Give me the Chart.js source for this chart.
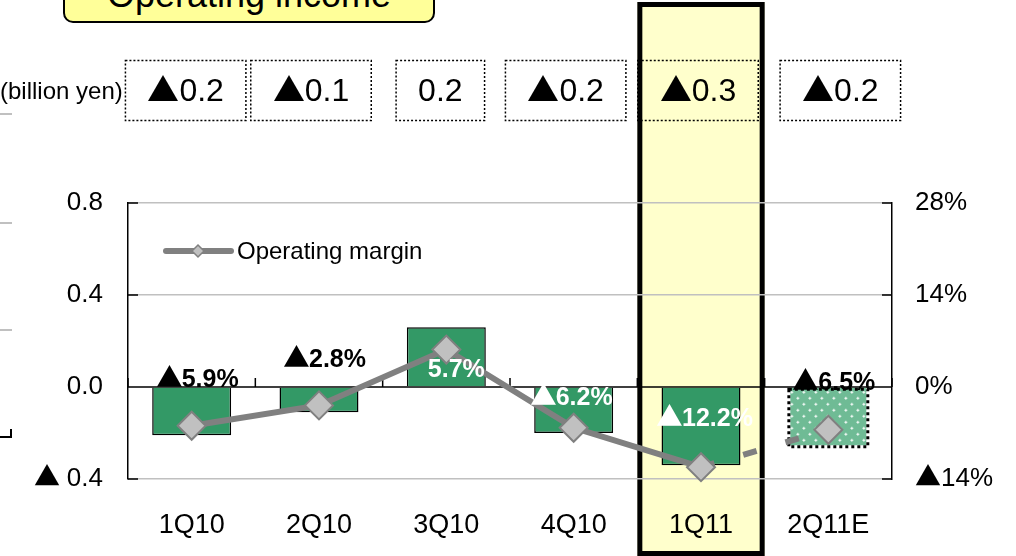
<!DOCTYPE html>
<html>
<head>
<meta charset="utf-8">
<script src="https://cdn.jsdelivr.net/npm/chart.js@4.4.0/dist/chart.umd.min.js"></script>
<style>
  @font-face {
    font-family: 'Tri';
    src: local('Noto Sans CJK JP Regular'), local('NotoSansCJKjp-Regular'), local('Noto Sans CJK JP'),
         local('DejaVu Sans'), local('DejaVuSans');
    unicode-range: U+25B2;
  }
  body { margin: 0; background: #fff; font-family: 'Liberation Sans', Arial, sans-serif; }
  #wrap { position: relative; width: 1016px; height: 556px; overflow: hidden; }
  #chart { position: absolute; left: 0; top: 0; }
  .title {
    position: absolute; left: 63px; top: -30px; width: 368px; height: 44px;
    padding-top: 5px; background: #FFFF99; border: 2px solid #000; border-radius: 10px;
    font-size: 36px; line-height: 36px; text-align: center; z-index: 2;
  }
  .edge { position: absolute; left: 0; width: 12px; height: 2px; background: #c0c0c0; }
  .corner { position: absolute; left: 0; top: 429px; width: 10px; height: 7px;
    border-right: 2px solid #000; border-bottom: 2px solid #000; }
</style>
</head>
<body>
<div id="wrap">
  <canvas id="chart" width="1016" height="556"></canvas>
  <div class="title">Operating income</div>
  <div class="edge" style="top:113px"></div>
  <div class="edge" style="top:222px"></div>
  <div class="edge" style="top:329px"></div>
  <div class="corner"></div>
</div>
<script>
// quarterly operating income (billion yen) and operating margin (%)
const quarters = ['1Q10', '2Q10', '3Q10', '4Q10', '1Q11', '2Q11E'];
const operatingIncome = [-0.21, -0.11, 0.26, -0.20, -0.34, -0.26];
const incomeShown = [-0.2, -0.1, 0.2, -0.2, -0.3, -0.2];
const operatingMargin = [-5.9, -2.8, 5.7, -6.2, -12.2, -6.5];
const incomeTicks = [-0.4, 0.0, 0.4, 0.8];
const marginTicks = [-14, 0, 14, 28];

const highlightIndex = 4;   // current quarter
const forecastIndex = 5;    // estimate

// label placement (offset from the margin point) and colour
const pctOffsets = [[6, -46], [6, -45], [10, 21], [-2, -30], [4, -48], [6, -47]];
const pctColors = ['#000', '#000', '#fff', '#fff', '#fff', '#000'];
const boxShift = [-6, -8, -6, -8, -3, 12];

const FONT = "Tri, 'Liberation Sans', Arial, sans-serif";
const GREEN = '#339966';
const LIGHT_GREEN = '#6fbb95';

const signed = (v, d) => (v < 0 ? '\u25B2' : '') + Math.abs(v).toFixed(d);

function catStep(x) {
    return x.getPixelForValue(1) - x.getPixelForValue(0);
}

const decor = {
    id: 'decor',
    beforeDraw(chart) {
        const { ctx, scales: { x } } = chart;
        const step = catStep(x);
        const left = x.getPixelForValue(highlightIndex) - step / 2;
        ctx.save();
        ctx.fillStyle = '#FFFFCC';
        ctx.fillRect(left, 2, step, chart.height);
        ctx.lineWidth = 5;
        ctx.strokeStyle = '#000';
        ctx.strokeRect(left + 2.5, 4.5, step - 5, chart.height - 7);
        ctx.restore();
    },
    beforeDatasetsDraw(chart) {
        const { ctx, chartArea: a, scales: { x, y, y1 } } = chart;
        const y0 = y.getPixelForValue(0);
        const step = catStep(x);
        ctx.save();
        ctx.strokeStyle = '#000';
        ctx.lineWidth = 1.5;
        ctx.beginPath();
        ctx.moveTo(a.left, y0);
        ctx.lineTo(a.right, y0);
        for (let i = 0; i <= quarters.length; i++) {
            const px = x.getPixelForValue(0) - step / 2 + i * step;
            ctx.moveTo(px, y0);
            ctx.lineTo(px, y0 - 9);
        }
        y.ticks.forEach(t => {
            const py = y.getPixelForValue(t.value);
            ctx.moveTo(a.left, py);
            ctx.lineTo(a.left + 10, py);
        });
        y1.ticks.forEach(t => {
            const py = y1.getPixelForValue(t.value);
            ctx.moveTo(a.right, py);
            ctx.lineTo(a.right - 10, py);
        });
        ctx.stroke();
        ctx.restore();
    },
    afterDatasetDraw(chart, args) {
        if (args.index !== 0) return;
        // estimate bar: white dot texture and dotted outline
        const bar = chart.getDatasetMeta(0).data[forecastIndex];
        const { ctx } = chart;
        const l = bar.x - bar.width / 2, r = bar.x + bar.width / 2;
        const top = Math.min(bar.y, bar.base) + 1.5, bottom = Math.max(bar.y, bar.base);
        ctx.save();
        ctx.beginPath();
        ctx.rect(l, top, r - l, bottom - top);
        ctx.clip();
        ctx.fillStyle = 'rgba(255,255,255,0.9)';
        for (let yy = top + 3, row = 0; yy < bottom; yy += 6, row++) {
            for (let xx = l + 3 + (row % 2) * 6; xx < r; xx += 12) {
                ctx.fillRect(xx - 1.5, yy - 0.5, 3, 1);
                ctx.fillRect(xx - 0.5, yy - 1.5, 1, 3);
            }
        }
        ctx.restore();
        ctx.save();
        ctx.strokeStyle = '#000';
        ctx.lineWidth = 3;
        ctx.setLineDash([3, 3]);
        ctx.strokeRect(l, top, r - l, bottom - top);
        ctx.restore();
    },
    afterDraw(chart) {
        const { ctx, chartArea: a, scales: { x } } = chart;
        ctx.save();

        // margin labels
        ctx.font = 'bold 25px ' + FONT;
        ctx.textAlign = 'center';
        ctx.textBaseline = 'middle';
        chart.getDatasetMeta(1).data.forEach((pt, i) => {
            ctx.fillStyle = pctColors[i];
            ctx.fillText(signed(operatingMargin[i], 1) + '%', pt.x + pctOffsets[i][0], pt.y + pctOffsets[i][1]);
        });

        // legend inside the plot
        const ly = a.top + 48, lx = a.left + 38;
        ctx.strokeStyle = '#808080';
        ctx.lineWidth = 6;
        ctx.lineCap = 'round';
        ctx.beginPath();
        ctx.moveTo(lx, ly);
        ctx.lineTo(lx + 65, ly);
        ctx.stroke();
        ctx.lineWidth = 1.5;
        ctx.fillStyle = '#C0C0C0';
        ctx.beginPath();
        ctx.moveTo(lx + 32, ly - 6);
        ctx.lineTo(lx + 38, ly);
        ctx.lineTo(lx + 32, ly + 6);
        ctx.lineTo(lx + 26, ly);
        ctx.closePath();
        ctx.fill();
        ctx.stroke();
        ctx.fillStyle = '#000';
        ctx.font = '24px ' + FONT;
        ctx.textAlign = 'left';
        ctx.fillText(chart.data.datasets[1].label, lx + 71, ly + 1);

        // unit and boxed quarterly values
        ctx.font = '24px ' + FONT;
        ctx.fillText('(billion yen)', 0, 92);
        ctx.font = '32px ' + FONT;
        ctx.textAlign = 'center';
        ctx.strokeStyle = '#000';
        ctx.lineWidth = 1.5;
        ctx.setLineDash([2, 2]);
        ctx.lineCap = 'butt';
        incomeShown.forEach((v, i) => {
            const txt = signed(v, 1);
            const cx = x.getPixelForValue(i) + boxShift[i];
            const w = ctx.measureText(txt).width + 44;
            ctx.strokeRect(cx - w / 2, 60.5, w, 60);
            ctx.fillText(txt, cx, 92);
        });
        ctx.restore();
    }
};

function drawChart() {
    Chart.defaults.font.family = FONT;
    Chart.defaults.color = '#000';

    new Chart(document.getElementById('chart'), {
        type: 'bar',
        data: {
            labels: quarters,
            datasets: [{
                type: 'bar',
                label: 'Operating income',
                data: operatingIncome,
                yAxisID: 'y',
                order: 2,
                backgroundColor: quarters.map((q, i) => i === forecastIndex ? LIGHT_GREEN : GREEN),
                borderColor: quarters.map((q, i) => i === forecastIndex ? 'rgba(0,0,0,0)' : '#000'),
                borderWidth: 1.5,
                categoryPercentage: 0.62,
                barPercentage: 1
            }, {
                type: 'line',
                label: 'Operating margin',
                data: operatingMargin,
                yAxisID: 'y1',
                order: 1,
                clip: false,
                borderColor: '#808080',
                borderWidth: 6,
                tension: 0,
                pointStyle: 'rectRot',
                pointRadius: 14,
                pointBackgroundColor: '#C0C0C0',
                pointBorderColor: '#808080',
                pointBorderWidth: 2,
                segment: {
                    borderDash: ctx => ctx.p1DataIndex === forecastIndex ? [14, 30] : undefined
                }
            }]
        },
        options: {
            responsive: false,
            animation: false,
            layout: { padding: { top: 203, left: 0, right: 0, bottom: 0 } },
            plugins: {
                legend: { display: false },
                tooltip: { enabled: false }
            },
            scales: {
                x: {
                    grid: { display: false },
                    border: { display: false },
                    ticks: { font: { size: 27 }, padding: 22 },
                    afterFit: s => { s.height = 77; }
                },
                y: {
                    position: 'left',
                    min: -0.4,
                    max: 0.8,
                    afterBuildTicks: s => { s.ticks = incomeTicks.map(v => ({ value: v })); },
                    grid: {
                        color: c => c.tick && c.tick.value === 0 ? 'rgba(0,0,0,0)' : '#C0C0C0',
                        lineWidth: 1.5,
                        drawTicks: false
                    },
                    border: { color: '#000', width: 1.5 },
                    ticks: {
                        font: { size: 26 },
                        padding: 25,
                        callback: v => v < 0 ? '\u25B2 ' + Math.abs(v).toFixed(1) : v.toFixed(1)
                    },
                    afterFit: s => { s.width = 128; }
                },
                y1: {
                    position: 'right',
                    min: -14,
                    max: 28,
                    afterBuildTicks: s => { s.ticks = marginTicks.map(v => ({ value: v })); },
                    grid: { drawOnChartArea: false, drawTicks: false },
                    border: { color: '#000', width: 1.5 },
                    ticks: {
                        font: { size: 26 },
                        padding: 23,
                        callback: v => signed(v, 0) + '%'
                    },
                    afterFit: s => { s.width = 124; }
                }
            }
        },
        plugins: [decor]
    });
}

document.fonts.load('32px Tri', '\u25B2').then(drawChart, drawChart);
</script>
</body>
</html>
